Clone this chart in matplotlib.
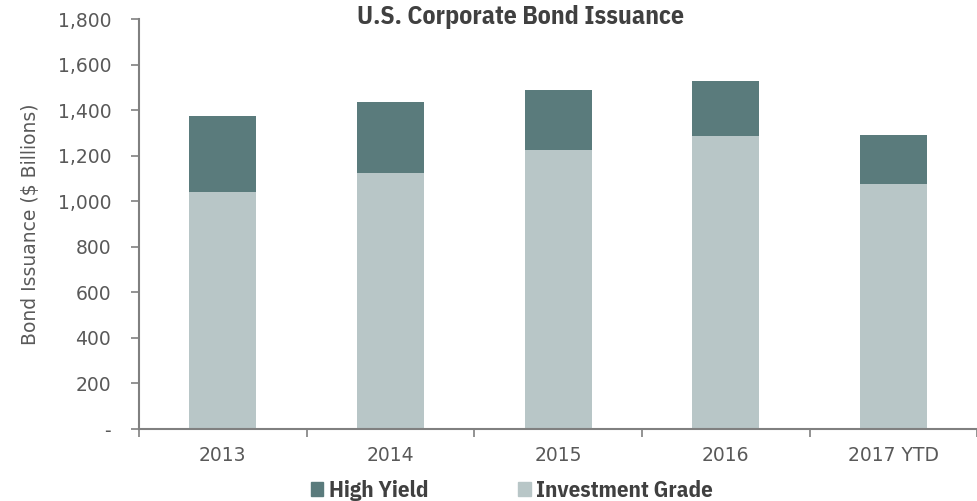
import matplotlib
matplotlib.use("Agg")
import matplotlib.pyplot as plt
import numpy as np
from matplotlib.patches import Patch
from matplotlib.ticker import FuncFormatter

categories = ["2013", "2014", "2015", "2016", "2017 YTD"]
investment_grade = [1041, 1126, 1227, 1287, 1076]
high_yield = [335, 311, 262, 242, 216]
y_ticks = [0, 200, 400, 600, 800, 1000, 1200, 1400, 1600, 1800]

ig_color = "#B8C6C7"
hy_color = "#5A7B7C"
axis_color = "#808080"
text_color = "#595959"
dark_text = "#404040"

narrow = ["IBM Plex Sans Condensed", "DejaVu Sans"]

fig = plt.figure(figsize=(9.77, 5.01), dpi=100)
ax = fig.add_axes([0.1423, 0.1437, 0.858, 0.8178])

x = np.arange(len(categories))
ax.bar(x, investment_grade, width=0.4, color=ig_color, label="Investment Grade", zorder=2)
ax.bar(x, high_yield, width=0.4, bottom=investment_grade, color=hy_color, label="High Yield", zorder=2)

ax.set_xlim(-0.5, len(categories) - 0.5)
ax.set_ylim(0, 1800)

for s in ["top", "right"]:
    ax.spines[s].set_visible(False)
for s in ["left", "bottom"]:
    ax.spines[s].set_color(axis_color)
    ax.spines[s].set_linewidth(1.5)

ax.set_yticks(y_ticks)
ax.yaxis.set_major_formatter(FuncFormatter(lambda v, p: "-" if v == 0 else f"{int(v):,}"))
ax.tick_params(axis="y", length=6, width=1.2, color=axis_color, pad=14,
               labelsize=13.5, labelcolor=text_color)

ax.set_xticks(np.arange(-0.5, len(categories), 1.0))
ax.set_xticklabels([])
ax.tick_params(axis="x", which="major", length=6, width=1.2, color=axis_color)
ax.set_xticks(x, minor=True)
ax.set_xticklabels(categories, minor=True)
ax.tick_params(axis="x", which="minor", length=0, pad=12, labelsize=13.5, labelcolor=text_color)

ax.set_ylabel("Bond Issuance ($ Billions)", fontsize=13.5, color=text_color, labelpad=10)
ax.yaxis.set_label_coords(-0.118, 0.5)

fig.text(0.533, 0.99, "U.S. Corporate Bond Issuance", ha="center", va="top",
         fontsize=18.5, fontweight="bold", color=dark_text, family=narrow)

handles = [Patch(color=hy_color, label="High Yield"),
           Patch(color=ig_color, label="Investment Grade")]
leg = fig.legend(handles=handles, loc="center", bbox_to_anchor=(0.524, 0.02), ncol=2,
                 frameon=False, handlelength=0.55, handleheight=0.55, handletextpad=0.25,
                 columnspacing=3.9, prop={"family": narrow, "weight": "bold", "size": 16.5},
                 borderaxespad=0, borderpad=0)
for t in leg.get_texts():
    t.set_color(dark_text)

fig.savefig("out.png", dpi=100)
